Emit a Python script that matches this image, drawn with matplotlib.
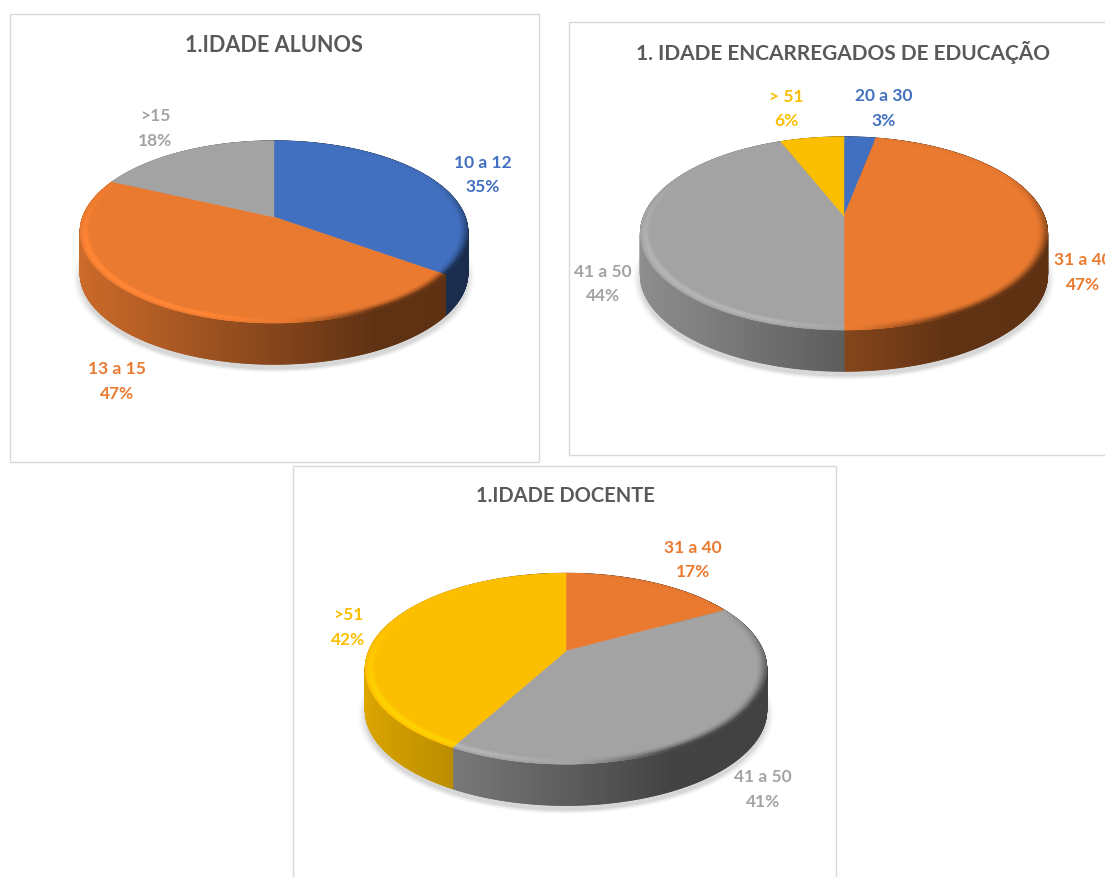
#!/usr/bin/env python3
"""Three bevelled 3D age pies, drawn in pixel coordinates with a perspective disc."""
import matplotlib
matplotlib.use("Agg")
import matplotlib.pyplot as plt
import numpy as np
from matplotlib.collections import PolyCollection
from matplotlib.colors import to_rgb
from matplotlib.patches import Polygon, Rectangle

BLUE = "#4270C0"
ORANGE = "#EA7A30"
GRAY = "#A3A3A3"
YELLOW = "#FCBE00"

alunos_title = "1.IDADE ALUNOS"
alunos_labels = ["10 a 12", "13 a 15", ">15"]
alunos_values = [35, 47, 18]
alunos_colors = [BLUE, ORANGE, GRAY]

ee_title = "1. IDADE ENCARREGADOS DE EDUCAÇÃO"
ee_labels = ["20 a 30", "31 a 40", "41 a 50", "> 51"]
ee_values = [3, 47, 44, 6]
ee_colors = [BLUE, ORANGE, GRAY, YELLOW]

docente_title = "1.IDADE DOCENTE"
docente_labels = ["31 a 40", "41 a 50", ">51"]
docente_values = [17, 41, 42]
docente_colors = [ORANGE, GRAY, YELLOW]

plt.rcParams["font.family"] = ["Lato", "DejaVu Sans"]
W, H = 1105, 877
DEPTH = 41


def project(theta, r, geo):
    """Disc angle (clockwise from top) and radius to screen pixels."""
    cx, cy, a, b, k = geo
    u = r * np.sin(theta)
    v = -r * np.cos(theta)
    w = 1 - k * v
    return cx + a * u / w, cy + b * v / w


def side_factor(u):
    # bright on the left, dark from just right of the middle
    return np.interp(u, [-1, -0.6, 0, 0.45, 1], [0.88, 0.78, 0.57, 0.41, 0.40])


def rim_factor(theta, t):
    u = np.sin(theta)
    v = -np.cos(theta)
    fade = np.clip(0.5 + v, 0.05, 1)
    light = np.clip((0.05 - u) * 2.5, 0, 1)
    dark = np.clip((u - 0.05) * 2.5, 0, 1)
    return 1 + 0.12 * np.sin(np.pi * t) * light * fade - 0.62 * t ** 1.5 * dark * fade


def shade(color, f):
    return tuple(np.clip(np.array(to_rgb(color)) * f, 0, 1))


def draw_pie(ax, values, colors, geo):
    # soft shadow under the pie
    ang = np.linspace(0, 2 * np.pi, 200)
    sx, sy = project(ang, 1, geo)
    for grow, alpha in zip([1.035, 1.025, 1.015, 1.005], [0.025, 0.035, 0.045, 0.06]):
        mx, my = sx.mean(), sy.mean()
        px = mx + (sx - mx) * grow
        py = my + (sy - my) * grow + DEPTH + 5
        ax.add_patch(Polygon(np.c_[px, py], fc="black", ec="none", alpha=alpha, zorder=2))

    edges = np.cumsum([0] + list(values)) / sum(values) * 2 * np.pi
    quads, cols = [], []
    for i, col in enumerate(colors):
        steps = np.linspace(edges[i], edges[i + 1], max(6, int(values[i] * 12)))
        for t0, t1 in zip(steps[:-1], steps[1:]):
            x0, y0 = project(t0, 1, geo)
            x1, y1 = project(t1, 1, geo)
            quads.append([(x0, y0), (x1, y1), (x1, y1 + DEPTH), (x0, y0 + DEPTH)])
            cols.append(shade(col, side_factor(np.sin((t0 + t1) / 2))))
    ax.add_collection(PolyCollection(quads, facecolors=cols, edgecolors=cols, linewidths=1.0, zorder=3))

    # flat top face
    for i, col in enumerate(colors):
        steps = np.linspace(edges[i], edges[i + 1], 120)
        ex, ey = project(steps, 1, geo)
        xy = np.vstack([[geo[0], geo[1]], np.c_[ex, ey]])
        ax.add_patch(Polygon(xy, fc=col, ec=col, lw=0.3, zorder=4))

    # bevel ring round the edge of the top face
    rings = np.linspace(0.955, 1, 11)
    quads, cols = [], []
    for i, col in enumerate(colors):
        steps = np.linspace(edges[i], edges[i + 1], max(8, int(values[i] * 8)))
        for t0, t1 in zip(steps[:-1], steps[1:]):
            for j in range(len(rings) - 1):
                xa, ya = project(t0, rings[j], geo)
                xb, yb = project(t1, rings[j], geo)
                xc, yc = project(t1, rings[j + 1], geo)
                xd, yd = project(t0, rings[j + 1], geo)
                quads.append([(xa, ya), (xb, yb), (xc, yc), (xd, yd)])
                cols.append(shade(col, rim_factor((t0 + t1) / 2, (j + 0.5) / (len(rings) - 1))))
    ax.add_collection(PolyCollection(quads, facecolors=cols, edgecolors=cols, linewidths=0.4, zorder=5))


def draw_labels(ax, labels, values, colors, spots):
    for name, val, col, (x, y) in zip(labels, values, colors, spots):
        ax.text(x, y, f"{name}\n{val}%", color=col, fontsize=12.5, fontweight="bold",
                ha="center", va="center", linespacing=1.62, zorder=6)


fig = plt.figure(figsize=(W / 100, H / 100), dpi=100)
ax = fig.add_axes([0, 0, 1, 1])
ax.set_xlim(0, W)
ax.set_ylim(H, 0)
ax.axis("off")

# chart frames: x, y, w, h
for x, y, w, h in [(9.5, 13.5, 529, 448), (568.5, 21.5, 560, 433), (292.5, 465.5, 543, 430)]:
    ax.add_patch(Rectangle((x, y), w, h, fc="white", ec="#D9D9D9", lw=1, zorder=1))

ax.text(274, 45, alunos_title, color="#595959", fontsize=15.6, fontweight="bold", ha="center", va="center")
ax.text(843, 53, ee_title, color="#595959", fontsize=15, fontweight="bold", ha="center", va="center")
ax.text(565, 496, docente_title, color="#595959", fontsize=14.5, fontweight="bold", ha="center", va="center")

draw_pie(ax, alunos_values, alunos_colors, (274, 217, 191, 88.5, 0.165))
draw_pie(ax, ee_values, ee_colors, (844, 216, 200, 93.3, 0.1815))
draw_pie(ax, docente_values, docente_colors, (566, 651, 197, 92, 0.187))

draw_labels(ax, alunos_labels, alunos_values, alunos_colors, [(483, 175), (117, 381.5), (155, 128.5)])
draw_labels(ax, ee_labels, ee_values, ee_colors, [(884, 108.5), (1083, 272.5), (603, 284), (786, 109)])
draw_labels(ax, docente_labels, docente_values, docente_colors, [(693, 560), (763, 789.5), (348, 627.5)])

fig.savefig("out.png", dpi=100)
